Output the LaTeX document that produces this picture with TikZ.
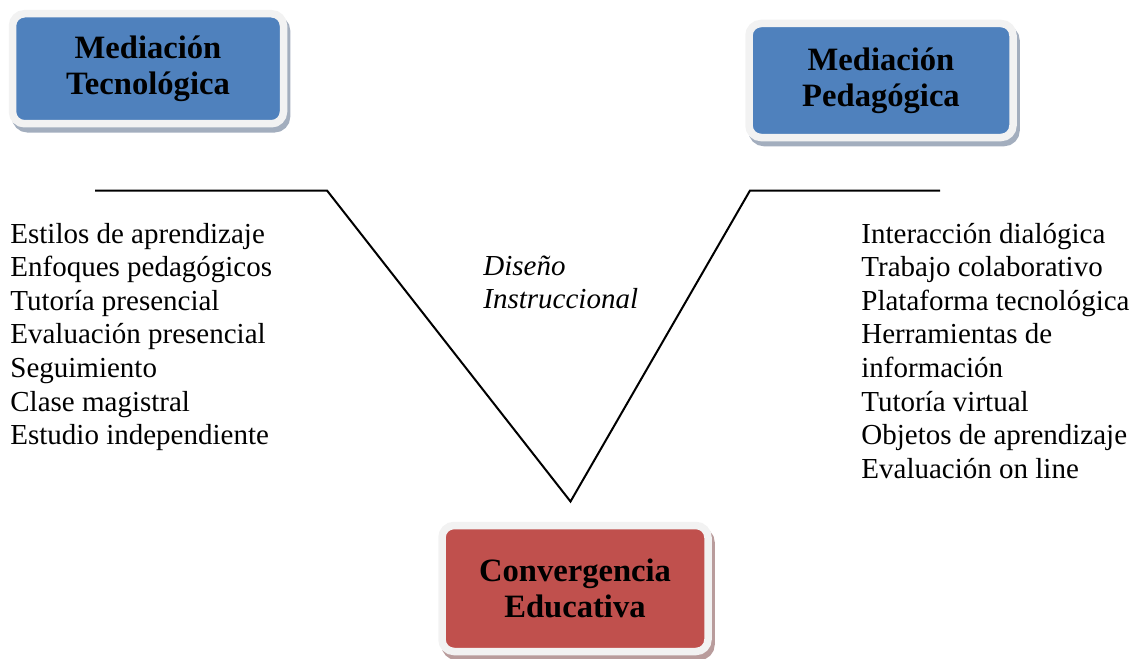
\documentclass[tikz,border=0pt]{standalone}
\usepackage{fontspec}
\setmainfont{Liberation Serif}
\definecolor{azulMediacion}{HTML}{4F81BD}
\definecolor{rojoConvergencia}{HTML}{C0504D}
\definecolor{bordeCaja}{HTML}{F2F2F2}
\definecolor{sombraAzul}{HTML}{A3AEBE}
\definecolor{sombraRoja}{HTML}{B99C9C}
\tikzset{
  caja/.style 2 args={draw=bordeCaja, line width=3.75pt, rounded corners=6pt, fill=#1,
    preaction={draw=#2, fill=#2, line width=3.75pt, transform canvas={xshift=1.5pt, yshift=-2.5pt}},
    align=center, inner sep=0pt, font=\fontsize{16.3}{18}\selectfont\bfseries},
  lista/.style={anchor=base west, inner sep=0pt, font=\fontsize{14.5}{16.8}\selectfont},
  diseno/.style={lista, font=\fontsize{14.5}{16.8}\selectfont\itshape},
}
\begin{document}
\begin{tikzpicture}[x=0.5pt, y=-0.5pt]
\useasboundingbox (0,0) rectangle (1134,658);

%cajas
\node[caja={azulMediacion}{sombraAzul},    minimum width=135.5pt, minimum height=55pt] (mediacionTecnologica)  at ( 148,  68.75) {Mediación\\Tecnológica};
\node[caja={azulMediacion}{sombraAzul},    minimum width=132pt,   minimum height=57pt] (mediacionPedagogica)   at ( 881,  80.5)  {Mediación\\Pedagógica};
\node[caja={rojoConvergencia}{sombraRoja}, minimum width=133pt,   minimum height=63pt] (convergenciaEducativa) at ( 575, 588.5)  {Convergencia\\Educativa};

%la v
\coordinate (izqInicio) at ( 95,190.5);
\coordinate (izqCodo)   at (327,190.5);
\coordinate (vertice)   at (570.5,501.5);
\coordinate (derCodo)   at (750,190.5);
\coordinate (derFin)    at (940,190.5);
\draw[line width=1pt] (izqInicio) -- (izqCodo) -- (vertice) -- (derCodo) -- (derFin);

%diseno instruccional
\node[diseno] (disenoUno) at (483,275) {Diseño};
\node[diseno] (disenoDos) at (483,308) {Instruccional};

%listas
\foreach \texto [count=\i] in {Estilos de aprendizaje, Enfoques pedagógicos, Tutoría presencial,
    Evaluación presencial, Seguimiento, Clase magistral, Estudio independiente}
  \node[lista] (izq\i) at (10,{243+33.6*(\i-1)}) {\texto};
\foreach \texto [count=\i] in {Interacción dialógica, Trabajo colaborativo, Plataforma tecnológica,
    Herramientas de, información, Tutoría virtual, Objetos de aprendizaje, Evaluación on line}
  \node[lista] (der\i) at (861,{243+33.6*(\i-1)}) {\texto};
\end{tikzpicture}
\end{document}
